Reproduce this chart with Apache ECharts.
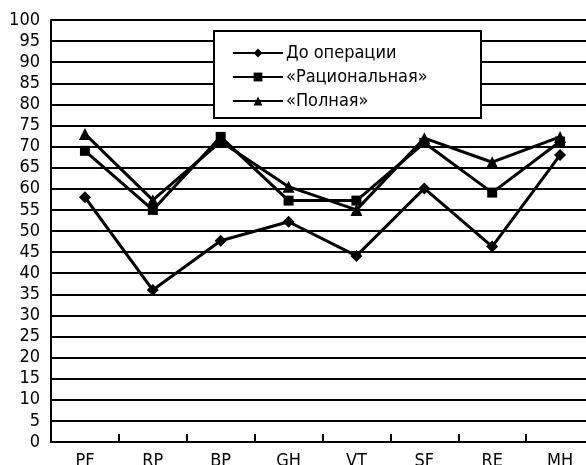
<!DOCTYPE html>
<html>
<head>
<meta charset="utf-8">
<script src="https://cdn.jsdelivr.net/npm/echarts@6/dist/echarts.min.js"></script>
<style>html,body{margin:0;padding:0;background:#fff;}#c{width:586px;height:465px;}</style>
</head>
<body>
<div id="c"></div>
<script>
const categories = ['PF','RP','BP','GH','VT','SF','RE','MH'];
const seriesNames = ['До операции','«Рациональная»','«Полная»'];
const beforeOp = [58, 36, 47.7, 52.2, 44.1, 60.1, 46.3, 68];
const rational = [69, 55, 72.3, 57.2, 57.2, 70.9, 59.1, 71.2];
const full = [73, 57.3, 71.2, 60.5, 55, 72, 66.3, 72.3];
const yTicks = [0,5,10,15,20,25,30,35,40,45,50,55,60,65,70,75,80,85,90,95,100];

const FONT = "'DejaVu Sans Condensed','Liberation Sans',sans-serif";
const chart = echarts.init(document.getElementById('c'), null, {renderer:'canvas'});
const lineStyle = {color:'#000', width:3};
function mk(name, data, symbol, size){
  return {name, type:'line', data, symbol, symbolSize:size, showSymbol:true,
    lineStyle, itemStyle:{color:'#000'}, z:5, animation:false};
}
chart.setOption({
  animation:false,
  backgroundColor:'#fff',
  grid:{left:51, right:-8, top:20, bottom:23, containLabel:false, outerBoundsMode:'none'},
  graphic:[{type:'rect', shape:{x:214, y:31, width:267, height:87},
    style:{fill:'#fff', stroke:'#000', lineWidth:2}, z:3}],
  legend:{orient:'vertical', left:227, top:38, itemWidth:50, itemHeight:11, itemGap:4,
    z:6, data:seriesNames,
    textStyle:{fontFamily:FONT, fontSize:18, color:'#000', lineHeight:20, padding:[0,0,0,-2]}},
  xAxis:{type:'category', data:categories, boundaryGap:true,
    axisLine:{show:true, lineStyle:{color:'#000', width:2}},
    axisTick:{show:true, inside:true, interval:0, length:8, lineStyle:{color:'#000', width:2}},
    axisLabel:{fontFamily:FONT, fontSize:18, color:'#000', margin:10, interval:0}},
  yAxis:{type:'value', min:0, max:100, interval:5,
    axisLine:{show:true, lineStyle:{color:'#000', width:2}},
    axisTick:{show:false},
    splitLine:{show:true, lineStyle:{color:'#000', width:2}},
    axisLabel:{fontFamily:FONT, fontSize:18, color:'#000', margin:11,
      formatter:v=>yTicks.includes(v)?String(v):''}},
  series:[mk(seriesNames[0], beforeOp, 'diamond', 12),
          mk(seriesNames[1], rational, 'rect', 10),
          mk(seriesNames[2], full, 'triangle', 12)]
});
</script>
</body>
</html>
